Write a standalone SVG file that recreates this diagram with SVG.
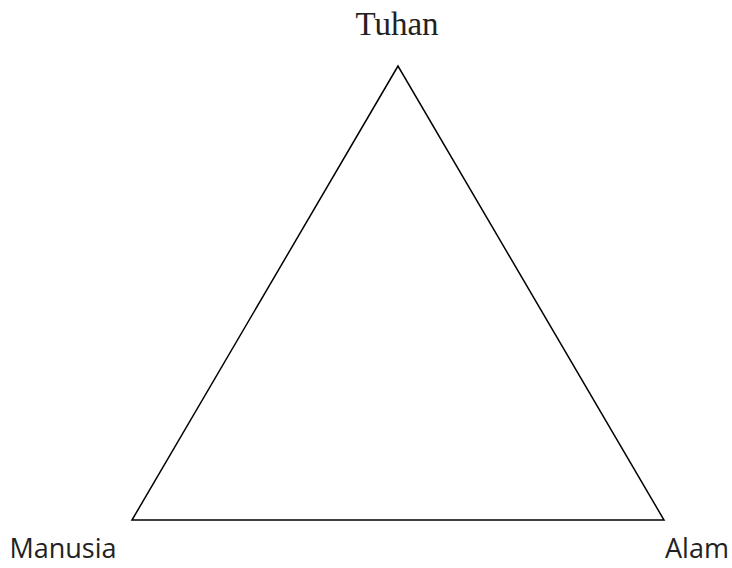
<svg xmlns="http://www.w3.org/2000/svg" width="732" height="568" viewBox="0 0 732 568">
<style>
.sans{font-family:"Open Sans","Liberation Sans",sans-serif;font-size:27px;fill:#222}
.serif{font-family:"Liberation Serif",serif;font-size:33px;fill:#222}
</style>
<rect width="732" height="568" fill="#fff"/>
<g id="connectors">
<polygon points="398,66 132,520 664,520" fill="none" stroke="#000" stroke-width="1.5"/>
</g>
<g id="tuhan"><text class="serif" x="397" y="35" text-anchor="middle">Tuhan</text></g>
<g id="manusia"><text class="sans" x="63" y="558" text-anchor="middle">Manusia</text></g>
<g id="alam"><text class="sans" x="697" y="558" text-anchor="middle">Alam</text></g>
</svg>
